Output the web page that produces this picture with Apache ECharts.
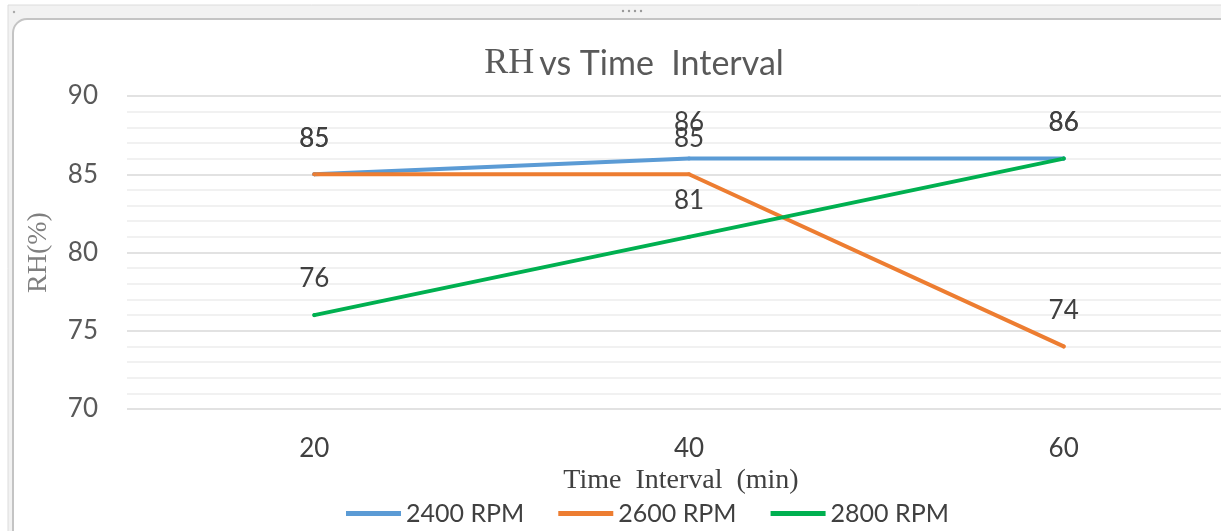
<!DOCTYPE html>
<html><head><meta charset="utf-8">
<script src="https://cdn.jsdelivr.net/npm/echarts@6/dist/echarts.min.js"></script>
<style>html,body{margin:0;padding:0;background:#fff}#c{width:1221px;height:531px}</style>
</head><body><div id="c"></div>
<script>
const categories = ['20', '40', '60'];
const rpm2400 = [85, 86, 86];
const rpm2600 = [85, 85, 74];
const rpm2800 = [76, 81, 86];
const seriesNames = ['2400 RPM', '2600 RPM', '2800 RPM'];

const chart = echarts.init(document.getElementById('c'));
const lbl = {show: true, position: 'top', distance: 21, color: '#404040', fontSize: 26, fontFamily: 'Lato'};
function mk(name, data, color) {
  return {name, type: 'line', data, symbol: 'circle', symbolSize: 4, showSymbol: true,
    lineStyle: {width: 4, color, cap: 'round'}, itemStyle: {color}, label: lbl,
    labelLayout: {hideOverlap: false}, z: 3};
}
chart.setOption({
  animation: false,
  backgroundColor: '#fff',
  title: {text: '{a|RH} {b|vs Time  Interval}', left: 629, top: 41, textAlign: 'center',
    textStyle: {fontWeight: 'normal', rich: {
      a: {fontFamily: 'Liberation Serif', fontSize: 36, fontWeight: 'normal', color: '#595959'},
      b: {fontFamily: 'Lato', fontSize: 34, fontWeight: 'normal', color: '#595959'}
    }}},
  legend: {bottom: 0, left: 341, itemWidth: 55, itemHeight: 5, itemGap: 34, icon: 'rect',
    textStyle: {fontFamily: 'Lato', fontSize: 25, color: '#404040'},
    data: seriesNames},
  grid: {left: 127, width: 1124, top: 96, bottom: 122, outerBoundsMode: 'none', containLabel: false},
  xAxis: {type: 'category', data: categories, boundaryGap: true,
    axisLine: {show: false}, axisTick: {show: false},
    axisLabel: {margin: 27, fontFamily: 'Lato', fontSize: 26, color: '#404040'},
    name: 'Time  Interval  (min)', nameLocation: 'middle', nameGap: 57,
    nameTextStyle: {fontFamily: 'Liberation Serif', fontSize: 28, color: '#404040', padding: [0, 16, 0, 0]}},
  yAxis: {type: 'value', min: 70, max: 90, interval: 5,
    axisLine: {show: false}, axisTick: {show: false},
    axisLabel: {margin: 29, fontFamily: 'Lato', fontSize: 26, color: '#595959'},
    splitLine: {lineStyle: {color: '#d9d9d9', width: 1.5}},
    minorTick: {show: false, splitNumber: 5},
    minorSplitLine: {show: true, lineStyle: {color: '#ededed', width: 1.5}},
    name: 'RH(%)', nameLocation: 'middle', nameGap: 74, nameRotate: 90,
    nameTextStyle: {fontFamily: 'Liberation Serif', fontSize: 28, color: '#7f7f7f'}},
  series: [
    mk(seriesNames[0], rpm2400, '#5B9BD5'),
    mk(seriesNames[1], rpm2600, '#ED7D31'),
    mk(seriesNames[2], rpm2800, '#00B050')
  ],
  graphic: [
    {type: 'rect', z: -10, shape: {x: 8, y: 5, width: 1230, height: 540}, style: {fill: '#f2f2f2', stroke: '#dcdcdc', lineWidth: 1}},
    {type: 'rect', z: -9, shape: {x: 13, y: 19, width: 1230, height: 540, r: [14, 0, 0, 0]}, style: {fill: '#ffffff', stroke: '#c4c4c4', lineWidth: 2}},
    {type: 'circle', z: -8, shape: {cx: 623, cy: 11, r: 1.2}, style: {fill: '#999'}},
    {type: 'circle', z: -8, shape: {cx: 629, cy: 11, r: 1.2}, style: {fill: '#999'}},
    {type: 'circle', z: -8, shape: {cx: 635, cy: 11, r: 1.2}, style: {fill: '#999'}},
    {type: 'circle', z: -8, shape: {cx: 641, cy: 11, r: 1.2}, style: {fill: '#999'}},
    {type: 'circle', z: -8, shape: {cx: 14, cy: 12, r: 1.2}, style: {fill: '#aaa'}}
  ]
});
</script></body></html>
